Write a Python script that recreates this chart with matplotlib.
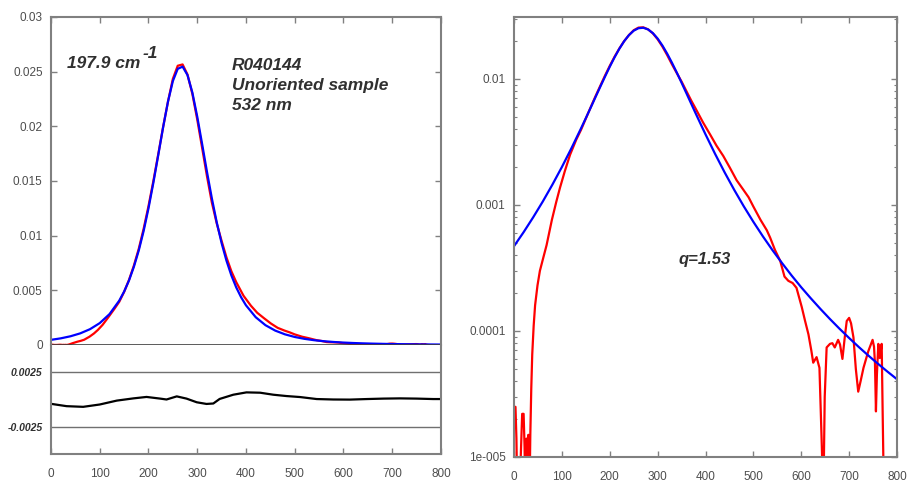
from matplotlib import pyplot as plt
from matplotlib.ticker import FixedLocator, NullFormatter

plt.rcParams['font.family'] = ['Liberation Sans', 'DejaVu Sans']

# fitted q-gaussian (blue)
fit_x = [0, 20, 40, 60, 80, 100, 120, 140, 150, 160, 170, 180, 190, 200, 210, 220,
         230, 240, 250, 260, 270, 280, 290, 300, 310, 320, 330, 340, 350, 360, 370,
         380, 390, 400, 420, 440, 460, 480, 500, 520, 540, 560, 580, 600, 620, 640,
         660, 680, 700, 720, 740, 760, 780, 800]
fit_y = [4.71e-4, 6.08e-4, 7.98e-4, 1.064e-3, 1.446e-3, 2.001e-3, 2.823e-3, 4.055e-3,
         4.886e-3, 5.90e-3, 7.15e-3, 8.64e-3, 1.042e-2, 1.250e-2, 1.484e-2, 1.736e-2,
         1.991e-2, 2.226e-2, 2.414e-2, 2.526e-2, 2.546e-2, 2.469e-2, 2.309e-2, 2.089e-2,
         1.839e-2, 1.583e-2, 1.341e-2, 1.122e-2, 9.32e-3, 7.71e-3, 6.37e-3, 5.27e-3,
         4.37e-3, 3.63e-3, 2.541e-3, 1.811e-3, 1.316e-3, 9.74e-4, 7.34e-4, 5.62e-4,
         4.37e-4, 3.45e-4, 2.75e-4, 2.22e-4, 1.815e-4, 1.496e-4, 1.243e-4, 1.041e-4,
         8.79e-5, 7.47e-5, 6.39e-5, 5.50e-5, 4.76e-5, 4.14e-5]

# measured spectrum (red)
data_x = [0, 3, 5, 7, 11, 14, 17, 20, 22, 24, 26, 28, 30, 32, 34, 36, 38, 41, 44, 49,
          54, 61, 68, 79, 88, 96, 106, 117, 130, 140, 150, 160, 170, 180, 190, 200,
          210, 220, 230, 240, 250, 260, 270, 280, 290, 300, 310, 320, 330, 340, 350,
          360, 370, 380, 395, 410, 423, 437, 451, 465, 479, 490, 500, 515, 528, 535,
          545, 556, 565, 573, 582, 590, 601, 608, 615, 621, 625, 632, 638, 643, 646,
          649, 653, 660, 665, 670, 677, 681, 686, 691, 695, 700, 704, 709, 714, 719,
          724, 730, 740, 749, 752, 754, 756, 758, 761, 764, 768, 770, 773]
data_y = [2.5e-5, 2.5e-5, 1.4e-5, 4e-6, 4e-6, 1.0e-5, 2.2e-5, 2.2e-5, 1.2e-5, 4e-6,
          1.4e-5, 4e-6, 1.5e-5, 4e-6, 1.5e-5, 3.5e-5, 6.5e-5, 1.1e-4, 1.6e-4, 2.3e-4,
          3.0e-4, 3.8e-4, 4.8e-4, 7.6e-4, 1.05e-3, 1.37e-3, 1.85e-3, 2.5e-3, 3.3e-3,
          3.95e-3, 4.85e-3, 5.95e-3, 7.26e-3, 8.79e-3, 1.062e-2, 1.27e-2, 1.50e-2,
          1.744e-2, 1.994e-2, 2.226e-2, 2.434e-2, 2.554e-2, 2.566e-2, 2.474e-2,
          2.297e-2, 2.063e-2, 1.804e-2, 1.543e-2, 1.303e-2, 1.112e-2, 9.52e-3, 8.01e-3,
          6.75e-3, 5.75e-3, 4.5e-3, 3.6e-3, 2.95e-3, 2.45e-3, 1.97e-3, 1.57e-3, 1.32e-3,
          1.15e-3, 9.7e-4, 7.6e-4, 6.3e-4, 5.5e-4, 4.4e-4, 3.6e-4, 2.7e-4, 2.5e-4,
          2.4e-4, 2.2e-4, 1.55e-4, 1.2e-4, 9.4e-5, 7.0e-5, 5.6e-5, 6.2e-5, 5.1e-5,
          1.2e-5, 4e-6, 3e-5, 7.4e-5, 7.9e-5, 8.0e-5, 7.4e-5, 8.5e-5, 7.8e-5, 6.0e-5,
          9.0e-5, 1.2e-4, 1.27e-4, 1.15e-4, 8.9e-5, 5.0e-5, 3.3e-5, 4.0e-5, 5.1e-5,
          6.9e-5, 8.5e-5, 7.5e-5, 5.5e-5, 2.3e-5, 4.5e-5, 7.9e-5, 6.1e-5, 7.9e-5,
          2.3e-5, 4e-6]

# residual (data - fit)
res_x = [0, 32, 66, 100, 135, 169, 196, 224, 237, 258, 278, 299, 319, 333, 346, 374,
         401, 429, 456, 483, 511, 545, 579, 613, 648, 682, 716, 750, 784, 800]
res_y = [-0.00039, -0.0006, -0.00066, -0.00045, -0.0001, 0.0001, 0.00023, 0.00008, 0.0,
         0.00028, 0.00008, -0.00025, -0.0004, -0.00036, 0.00005, 0.00043, 0.00064,
         0.00061, 0.00043, 0.00031, 0.00022, 0.00004, 0.0, -0.00001, 0.00004, 0.00008,
         0.0001, 0.00008, 0.00004, 0.00004]

x_ticks = [0, 100, 200, 300, 400, 500, 600, 700, 800]
lin_ticks = [0, 0.005, 0.01, 0.015, 0.02, 0.025, 0.03]
lin_labels = ['0', '0.005', '0.01', '0.015', '0.02', '0.025', '0.03']
log_ticks = [1e-5, 1e-4, 1e-3, 1e-2]
log_labels = ['1e-005', '0.0001', '0.001', '0.01']
info_lines = ['R040144', 'Unoriented sample', '532 nm']

SPINE = '#808080'
LABEL = '#4d4d4d'
TXT = '#303030'
RED = '#ff0000'
BLUE = '#0000ff'

fig = plt.figure(figsize=(9.09, 4.84), dpi=100)

# left: linear spectrum
ax1 = fig.add_axes([0.0561, 0.2872, 0.429, 0.6777])
ax1.plot(data_x, data_y, color=RED, linewidth=1.6)
ax1.plot(fit_x, fit_y, color=BLUE, linewidth=1.6)
ax1.set_xlim(0, 800)
ax1.set_ylim(0, 0.03)
ax1.set_xticks(x_ticks)
ax1.set_yticks(lin_ticks)
ax1.set_yticklabels(lin_labels)
ax1.tick_params(direction='in', length=4, width=1, color=SPINE, labelcolor=LABEL,
                labelsize=8.5, left=True, right=True, top=True, bottom=False,
                labelbottom=False, pad=6)
for side in ['left', 'right', 'top']:
    ax1.spines[side].set_color(SPINE)
    ax1.spines[side].set_linewidth(1.5)
ax1.spines['bottom'].set_color('#404040')
ax1.spines['bottom'].set_linewidth(1.2)

bold_it = dict(fontsize=12.5, fontweight='bold', fontstyle='italic', color=TXT,
               va='baseline')
ax1.text(33, 0.02532, '197.9 cm', **bold_it)
ax1.text(188, 0.02628, '-1', **bold_it)
for i, line in enumerate(info_lines):
    ax1.text(371, 0.02518 - i * 0.00183, line, **bold_it)

# left bottom: residual
ax2 = fig.add_axes([0.0561, 0.062, 0.429, 0.2252])
ax2.axhline(0.0025, color='#707070', linewidth=1)
ax2.axhline(-0.0025, color='#707070', linewidth=1)
ax2.plot(res_x, res_y, color='black', linewidth=1.6)
ax2.set_xlim(0, 800)
ax2.set_ylim(-0.0049, 0.0049)
ax2.set_xticks(x_ticks)
ax2.set_yticks([0.0025, -0.0025])
ax2.set_yticklabels(['0.0025', '-0.0025'], fontweight='bold', fontstyle='italic',
                    fontsize=7.5, color=TXT)
ax2.tick_params(axis='x', direction='in', length=4, width=1, color=SPINE,
                labelcolor=LABEL, labelsize=8.5, pad=10)
ax2.tick_params(axis='y', length=0, pad=6)
ax2.spines['top'].set_visible(False)
for side in ['left', 'right', 'bottom']:
    ax2.spines[side].set_color(SPINE)
    ax2.spines[side].set_linewidth(1.5)

# right: log spectrum
ax3 = fig.add_axes([0.5655, 0.0558, 0.4213, 0.9091])
ax3.plot(data_x, data_y, color=RED, linewidth=1.6)
ax3.plot(fit_x, fit_y, color=BLUE, linewidth=1.6)
ax3.set_yscale('log')
ax3.set_xlim(0, 800)
ax3.set_ylim(1e-5, 0.031)
ax3.set_xticks(x_ticks)
ax3.yaxis.set_major_locator(FixedLocator(log_ticks))
ax3.set_yticklabels(log_labels)
minors = [m * 10.0 ** e for e in range(-5, -1) for m in range(2, 10)]
ax3.yaxis.set_minor_locator(FixedLocator(minors))
ax3.yaxis.set_minor_formatter(NullFormatter())
ax3.tick_params(which='major', direction='in', length=4, width=1, color=SPINE,
                labelcolor=LABEL, labelsize=8.5, left=True, right=True, top=True)
ax3.tick_params(which='minor', direction='in', length=2, width=0.8, color=SPINE,
                left=True, right=True)
ax3.tick_params(axis='x', pad=10)
ax3.tick_params(axis='y', pad=6)
for side in ['left', 'right', 'top', 'bottom']:
    ax3.spines[side].set_color(SPINE)
    ax3.spines[side].set_linewidth(1.5)
ax3.text(399, 3.66e-4, 'q=1.53', fontsize=12, fontweight='bold', fontstyle='italic',
         color=TXT, ha='center', va='center')

fig.savefig('out.png', dpi=100, facecolor='white')
